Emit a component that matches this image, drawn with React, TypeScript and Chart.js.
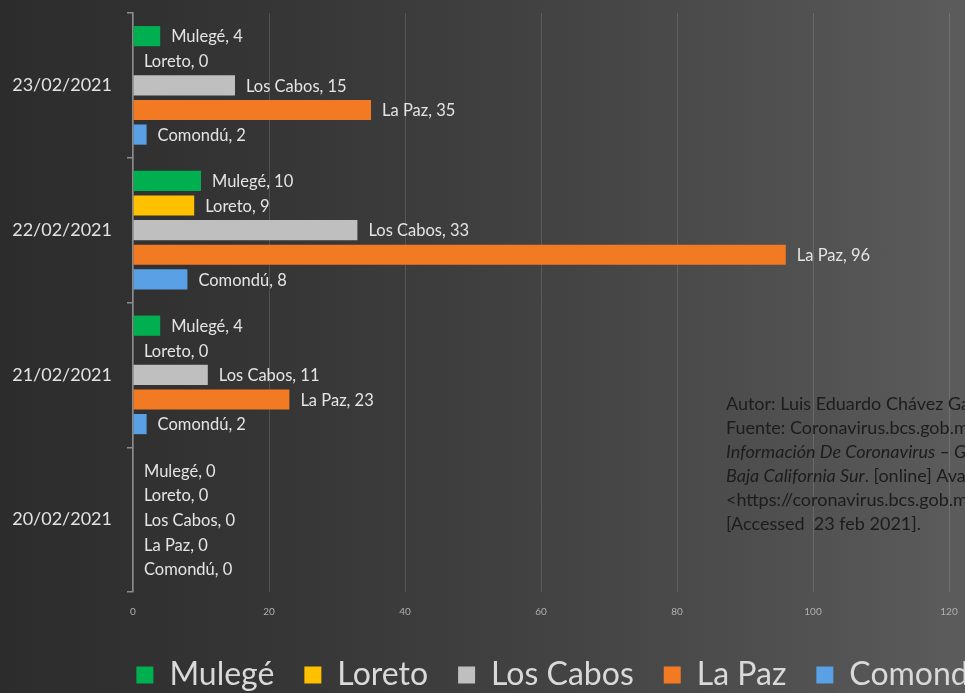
import React, { useEffect, useRef } from 'react';
import { Chart, registerables } from 'chart.js';

Chart.register(...registerables);

const categories = ['23/02/2021', '22/02/2021', '21/02/2021', '20/02/2021'];
const seriesNames = ['Mulegé', 'Loreto', 'Los Cabos', 'La Paz', 'Comondú'];
const mulege = [4, 10, 4, 0];
const loreto = [0, 9, 0, 0];
const losCabos = [15, 33, 11, 0];
const laPaz = [35, 96, 23, 0];
const comondu = [2, 8, 2, 0];
const seriesValues = [mulege, loreto, losCabos, laPaz, comondu];
const seriesColors = ['#00b050', '#ffc000', '#bfbfbf', '#f27a22', '#5aa0e4'];
const xMin = 0;
const xMax = 145;
const xStep = 20;

const noteLines: [string, boolean][][] = [
  [['Autor: Luis Eduardo Chávez García', false]],
  [['Fuente: Coronavirus.bcs.gob.mx. 2021.', false]],
  [['Información De Coronavirus – Gobierno De', true]],
  [['Baja California Sur', true], ['. [online] Available at:', false]],
  [['<https://coronavirus.bcs.gob.mx/>', false]],
  [['[Accessed  23 feb 2021].', false]],
];

const FONT = 'Lato, "Open Sans", sans-serif';

const dataLabelPlugin = {
  id: 'dataLabels',
  afterDatasetsDraw(chart: any) {
    const { ctx } = chart;
    ctx.save();
    ctx.font = `16.5px ${FONT}`;
    ctx.fillStyle = '#e4e4e4';
    ctx.textAlign = 'left';
    ctx.textBaseline = 'middle';
    chart.data.datasets.forEach((ds: any, di: number) => {
      const meta = chart.getDatasetMeta(di);
      meta.data.forEach((bar: any, i: number) => {
        const v = ds.data[i];
        ctx.fillText(`${ds.label}, ${v}`, bar.x + 11, bar.y + 1);
      });
    });
    ctx.restore();
  },
};

const notePlugin = {
  id: 'note',
  afterDraw(chart: any) {
    const { ctx, chartArea, scales } = chart;
    const x0 = scales.x.getPixelForValue(87.2);
    const h = chartArea.bottom - chartArea.top;
    let y = chartArea.top + h * 0.676;
    ctx.save();
    ctx.fillStyle = '#1c1c1c';
    ctx.textBaseline = 'middle';
    ctx.textAlign = 'left';
    noteLines.forEach((segs) => {
      let x = x0;
      segs.forEach(([t, it]) => {
        ctx.font = `${it ? 'italic ' : ''}18px ${FONT}`;
        ctx.fillText(t, x, y);
        x += ctx.measureText(t).width;
      });
      y += 24;
    });
    ctx.restore();
  },
};

export default function App() {
  const ref = useRef<HTMLCanvasElement>(null);
  useEffect(() => {
    if (!ref.current) return;
    const chart = new Chart(ref.current, {
      type: 'bar',
      data: {
        labels: categories,
        datasets: seriesNames.map((name, i) => ({
          label: name,
          data: seriesValues[i],
          backgroundColor: seriesColors[i],
          borderWidth: 0,
          categoryPercentage: 0.85,
          barPercentage: 0.82,
        })),
      },
      options: {
        indexAxis: 'y',
        responsive: false,
        animation: false,
        devicePixelRatio: 1,
        layout: { padding: { top: 13, left: 0, right: 10, bottom: -8 } },
        plugins: {
          tooltip: { enabled: false },
          legend: {
            position: 'bottom',
            labels: {
              color: '#d9d9d9',
              font: { family: FONT, size: 32 },
              boxWidth: 17,
              boxHeight: 17,
              padding: 30,
            },
          },
        },
        scales: {
          x: {
            min: xMin,
            max: xMax,
            ticks: {
              stepSize: xStep,
              color: '#b0b0b0',
              font: { family: FONT, size: 10 },
              padding: 14,
              callback: (v: any) => (Number(v) % xStep === 0 ? String(v) : ''),
            },
            grid: {
              color: 'rgba(210,210,210,0.18)',
              lineWidth: 1,
              drawTicks: false,
            },
            border: { display: false },
            afterFit: (s: any) => {
              s.height = 37;
            },
          },
          y: {
            ticks: {
              color: '#e2e2e2',
              font: { family: FONT, size: 18 },
              padding: 15,
            },
            grid: {
              drawOnChartArea: false,
              drawTicks: true,
              tickLength: 6,
              color: '#8c8c8c',
              lineWidth: 1.5,
            },
            border: { display: true, color: '#8c8c8c', width: 1.5 },
            afterFit: (s: any) => {
              s.width = 133;
              s.paddingTop = 0;
              s.paddingBottom = 0;
            },
          },
        },
      },
      plugins: [dataLabelPlugin, notePlugin],
    });
    return () => chart.destroy();
  }, []);

  return (
    <div
      style={{
        position: 'fixed',
        left: 0,
        top: 0,
        width: 965,
        height: 693,
        overflow: 'hidden',
        background:
          'linear-gradient(90deg, #2c2c2c 0%, #363636 30%, #444444 60%, #525252 85%, #5c5c5c 100%)',
      }}
    >
      <canvas ref={ref} width={1133} height={693} style={{ display: 'block' }} />
    </div>
  );
}
